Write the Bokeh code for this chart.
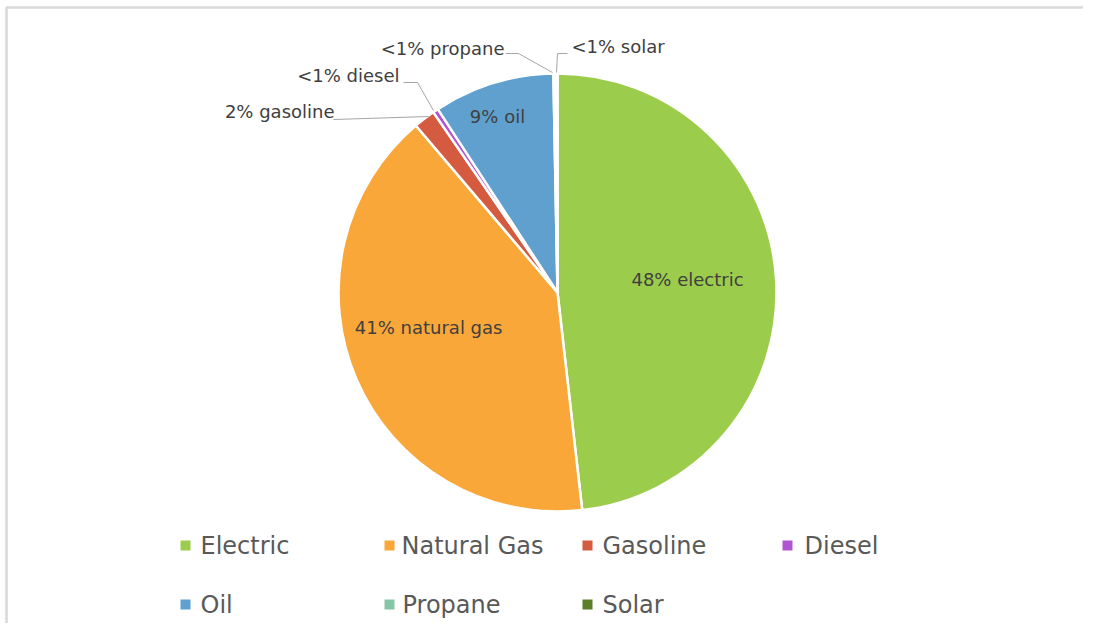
import numpy as np
from bokeh.plotting import figure
from bokeh.models import Range1d, ColumnDataSource
from bokeh.core.properties import value
from bokeh.embed import file_html
from bokeh.resources import INLINE

# ---- data ----
categories = ["Electric", "Natural Gas", "Gasoline", "Diesel", "Oil", "Propane", "Solar"]
shares = [48.2, 40.6, 1.6, 0.4, 8.9, 0.15, 0.15]
colors = ["#9BCC4C", "#FAA73A", "#D45A40", "#B154D1", "#5FA0CE", "#86C5A8", "#5A7F28"]
label_texts = ["48% electric", "41% natural  gas", "2% gasoline", "<1% diesel", "9% oil", "<1% propane", "<1% solar"]

FONT = "DejaVu Sans"
TXT = "#404040"

W, H = 1083, 623
p = figure(width=W, height=H, output_backend="svg", toolbar_location=None,
           x_range=Range1d(0, W), y_range=Range1d(-H, 0),
           min_border=0, outline_line_color=None)
p.axis.visible = False
p.grid.visible = False
p.background_fill_color = "white"
p.border_fill_color = "white"

# frame (top and left edges visible)
p.line([6, 6, W], [-H, -7, -7], line_color="#d9d9d9", line_width=2.5)

# ---- pie ----
cx, cy, r = 557, -292, 219
vals = np.array(shares, dtype=float)
frac = vals / vals.sum()
cum = np.concatenate([[0], np.cumsum(frac)])
start = np.pi / 2 - 2 * np.pi * cum[1:]
end = np.pi / 2 - 2 * np.pi * cum[:-1]
src = ColumnDataSource(dict(start=start, end=end, color=colors, cat=categories))
p.wedge(x=cx, y=cy, radius=r, start_angle="start", end_angle="end",
        fill_color="color", line_color="white", line_width=2.5, source=src)

# ---- data labels ----
lab_x = [687, 431, 334, 399, 497, 504, 571]
lab_y = [279, 327, 111, 75, 116, 48, 46]
lab_align = ["center", "center", "right", "right", "center", "right", "left"]
lsrc = ColumnDataSource(dict(x=lab_x, y=[-v for v in lab_y], t=label_texts, a=lab_align))
p.text(x="x", y="y", text="t", text_align="a", source=lsrc, text_font=value(FONT),
       text_font_size="18px", text_color=TXT, text_baseline="middle")

# leader lines
leaders = [
    ([333, 428], [119, 116]),
    ([403, 417, 433], [82, 82, 110]),
    ([505, 518, 552], [53, 53, 72]),
    ([567, 557, 556], [53, 53, 72]),
]
for xs, ys in leaders:
    p.line(xs, [-v for v in ys], line_color="#a6a6a6", line_width=1)

# ---- legend ----
leg_sq_x = [185, 389, 587, 787, 185, 389, 587]
leg_y = [545, 545, 545, 545, 604, 604, 604]
leg_tx = [200, 401, 602, 804, 200, 402, 602]
p.scatter(x=leg_sq_x, y=[-v for v in leg_y], marker="square", size=10,
          fill_color=colors, line_color=None)
p.text(x=leg_tx, y=[-v for v in leg_y], text=categories, text_font=value(FONT),
       text_font_size="24px", text_color="#595959", text_align="left", text_baseline="middle")

open("out.html", "w").write(file_html(p, INLINE))
